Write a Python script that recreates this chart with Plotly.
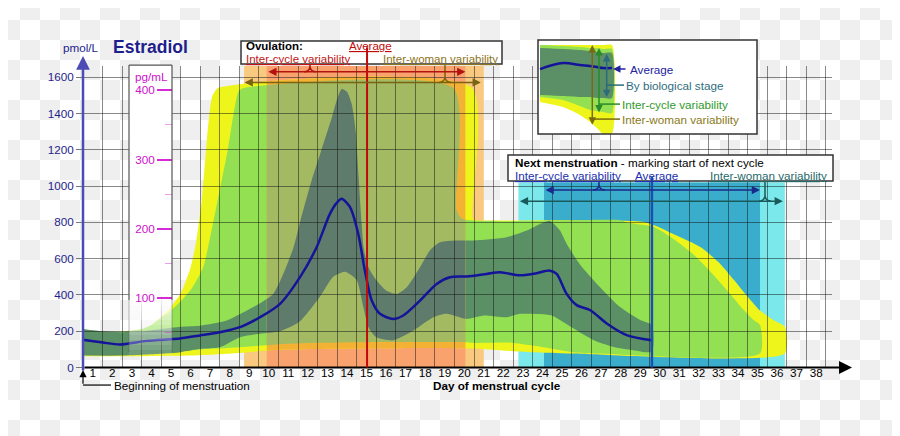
import plotly.graph_objects as go

W, H = 900, 436
OFF = 8            # page body margin
KY = 0.9864        # vertical factor between page pixels and the photographed picture
FONT = "Liberation Sans, Arial, sans-serif"

# ---------------- axis geometry (pixels of the 900x436 picture) ----------------
X0PX, DAYPX = 83.0, 19.55      # x pixel of day 0, pixels per day
Y0PX, PMOLPX = 367.5, 0.1815   # y pixel of 0 pmol/L, pixels per pmol/L
XMAX, YMAX = 38.3, 1662
PMOL_PER_PG = 3.82

# ---------------- data ----------------
DAY_LABELS = [str(d) for d in range(1, 39)]
PMOL_TICKS = [0, 200, 400, 600, 800, 1000, 1200, 1400, 1600]
PG_TICKS = [100, 200, 300, 400]
PG_MINOR = [50, 150, 250, 350]

OVULATION_INTER_WOMAN = [8.24, 20.5]
OVULATION_INTER_CYCLE = [9.4, 19.56]
OVULATION_AVERAGE = 14.53
MENSES_INTER_WOMAN = [22.27, 35.9]
MENSES_INTER_CYCLE = [23.58, 34.63]
MENSES_AVERAGE = 29.1
MENSES_BAND_TOP = 1020

# inter-woman variability (yellow)
YELLOW_TOP_X = [0, 1, 2, 3, 3.5, 4.0, 4.5, 5.0, 5.5, 5.8, 6.1, 6.4, 6.6, 6.9, 19.9, 19.95, 20.2,
                28.8, 30.2, 31.6, 32.6, 33.3, 34.0, 34.6, 35.3, 35.9]
YELLOW_TOP_Y = [205, 195, 195, 210, 235, 280, 335, 410, 550, 700, 950, 1330, 1490, 1540, 1540, 820, 812,
                800, 736, 663, 571, 482, 390, 317, 262, 225]
YELLOW_BOT_X = [0, 2, 4, 6, 8, 9, 10, 14, 19, 20, 21.7, 23, 25, 35.9]
YELLOW_BOT_Y = [62, 62, 64, 68, 80, 90, 98, 105, 107, 105, 92, 85, 78, 78]

# inter-cycle variability (light green)
GREEN_TOP_X = [0, 1, 2, 3, 3.5, 4, 4.5, 5, 5.6, 6.15, 6.4, 6.75, 7.1, 7.43, 7.7, 7.95, 8.2, 18.95, 19.1,
               19.4, 27.5, 27.8, 29.2, 30.2, 31.2, 32.2, 33.1, 33.8, 34.3, 34.63]
GREEN_TOP_Y = [210, 198, 198, 212, 235, 275, 315, 365, 443, 553, 663, 847, 1033, 1214, 1397, 1520, 1540, 1540, 870,
               820, 812, 800, 775, 709, 626, 516, 406, 317, 262, 234]
GREEN_BOT_X = [0, 2, 4, 6, 8, 9, 10, 12, 14, 19.5, 20, 21.7, 22.5, 23.4, 25.07, 26.4, 34.63]
GREEN_BOT_Y = [72, 72, 80, 100, 112, 120, 128, 136, 140, 140, 136, 138, 128, 115, 85, 78, 78]

# variability by biological stage (dark band)
DARK_TOP_X = [0, 1, 2, 3, 4, 5, 6, 7.35, 8.71, 9.73, 10.3, 10.76, 11.1, 11.7, 12.2, 12.72, 13.0, 13.23, 13.5,
              13.75, 13.95, 14.1, 14.25, 14.35, 14.6, 15.0, 15.5, 16.05, 16.56, 17.24, 17.75, 18.26, 19.1, 19.96,
              21.67, 22.7, 23.38, 23.9, 24.4, 24.74, 25.4, 26.45, 27.47, 28.5, 29.1]
DARK_TOP_Y = [213, 200, 195, 200, 213, 225, 231, 259, 333, 406, 530, 660, 800, 1033, 1200, 1375, 1480, 1535, 1520,
              1450, 1300, 1050, 800, 663, 553, 482, 425, 406, 443, 553, 646, 690, 700, 700,
              718, 755, 791, 808, 755, 682, 571, 443, 333, 262, 234]
DARK_BOT_X = [0, 2, 4, 5, 6, 7, 8.03, 9.05, 10.08, 11.1, 12.12, 12.8, 13.4, 14.0, 14.34, 14.6, 15.0, 15.87,
              16.9, 17.92, 18.6, 19.6, 20.5, 21.67, 22.35, 23.9, 24.4, 25.08, 26.1, 27.1, 28.15, 29.1]
DARK_BOT_Y = [66, 66, 76, 85, 103, 112, 167, 186, 200, 255, 390, 500, 528, 482, 333, 222, 167, 150,
              204, 277, 296, 268, 287, 277, 296, 289, 262, 216, 152, 115, 96, 87]

# average estradiol level
MEAN_X = [0, 1, 1.9, 3.26, 4.96, 6, 7, 8.03, 9.05, 10.08, 11.1, 11.95, 12.63, 13.0, 13.23, 13.66, 14.08, 14.42,
          14.77, 15.19, 15.87, 16.38, 17.24, 18.09, 18.77, 19.63, 20.65, 21.33, 22.35, 23.2, 23.89, 24.23,
          24.74, 25.25, 25.93, 26.79, 27.81, 29.1]
MEAN_Y = [153, 138, 127, 147, 160, 177, 195, 223, 277, 351, 498, 663, 847, 910, 930, 884, 736, 534,
          369, 296, 268, 287, 369, 461, 498, 502, 516, 525, 508, 520, 534, 516,
          406, 344, 317, 243, 179, 150]

# small illustration inside the key box
MINI_X = [0, 23, 40, 50, 57, 63, 72]
MINI_YELLOW_TOP = [89, 89, 89, 89, 89, 89, 89]
MINI_YELLOW_BOT = [32, 27, 19, 12, 6, 0, 0]
MINI_GREEN_TOP = [89, 88, 87, 86, 86, 85, 85]
MINI_GREEN_BOT = [37, 34, 28, 24, 23, 22, 21]
MINI_DARK_TOP = [86, 85, 84, 83, 82, 81, 81]
MINI_DARK_BOT = [39, 38, 37, 37, 36, 36, 36]
MINI_MEAN = [65, 71, 69, 68, 67, 66, 66]

# ---------------- colours ----------------
C_YELLOW, C_GREEN, C_DARK = "#eef51a", "#93e052", "#5b8f66"
C_YELLOW_OV, C_GREEN_OV, C_DARK_OV = "#f4b234", "#a3ba62", "#5f7b6b"
C_SALMON, C_LORANGE = "#f9a26e", "#f8c97e"
C_CYAN, C_BLUE = "#7be9eb", "#3aadcd"
C_LINE = "#14149a"
NAVY = "#1e1e8c"
MAGENTA = "#cc11cc"


def fx(p):
    return (p - OFF) / W


def fy(p):
    return 1 - (p / KY - OFF) / H


def band(xt, yt, xb, yb):
    return list(xt) + list(xb)[::-1], list(yt) + list(yb)[::-1]


def band_trace(xy, color, xa, ya):
    return go.Scatter(x=xy[0], y=xy[1], fill="toself", fillcolor=color, mode="lines",
                      line=dict(width=0, shape="spline", smoothing=0.6, color=color),
                      hoverinfo="skip", xaxis=xa, yaxis=ya)


YELLOW = band(YELLOW_TOP_X, YELLOW_TOP_Y, YELLOW_BOT_X, YELLOW_BOT_Y)
GREEN = band(GREEN_TOP_X, GREEN_TOP_Y, GREEN_BOT_X, GREEN_BOT_Y)
DARK = band(DARK_TOP_X, DARK_TOP_Y, DARK_BOT_X, DARK_BOT_Y)

fig = go.Figure()

# transparent-image checkerboard backdrop (20 px squares of the picture)
cols, rows = list(range(46)), list(range(23))
fig.add_trace(go.Heatmap(x=[10 + 20 * c for c in cols], y=[10 + 20 * r for r in rows],
                         z=[[(r + c) % 2 for c in cols] for r in rows], zmin=0, zmax=1,
                         colorscale=[[0, "#ffffff"], [1, "#efefef"]], showscale=False,
                         hoverinfo="skip", xaxis="x", yaxis="y"))

for xy, col in ((YELLOW, C_YELLOW), (GREEN, C_GREEN), (DARK, C_DARK)):
    fig.add_trace(band_trace(xy, col, "x2", "y2"))
for xy, col in ((YELLOW, C_YELLOW_OV), (GREEN, C_GREEN_OV), (DARK, C_DARK_OV)):
    fig.add_trace(band_trace(xy, col, "x3", "y3"))
fig.add_trace(go.Scatter(x=MEAN_X, y=MEAN_Y, mode="lines", hoverinfo="skip",
                         line=dict(color=C_LINE, width=2.5, shape="spline", smoothing=0.8),
                         xaxis="x5", yaxis="y5"))
for xy, col in ((band(MINI_X, MINI_YELLOW_TOP, MINI_X, MINI_YELLOW_BOT), C_YELLOW),
                (band(MINI_X, MINI_GREEN_TOP, MINI_X, MINI_GREEN_BOT), C_GREEN),
                (band(MINI_X, MINI_DARK_TOP, MINI_X, MINI_DARK_BOT), C_DARK)):
    fig.add_trace(band_trace(xy, col, "x6", "y6"))
fig.add_trace(go.Scatter(x=MINI_X, y=MINI_MEAN, mode="lines", hoverinfo="skip",
                         line=dict(color=C_LINE, width=2.5, shape="spline"), xaxis="x6", yaxis="y6"))
fig.add_trace(go.Scatter(x=[0.5], y=[0], mode="markers", marker=dict(opacity=0), hoverinfo="skip",
                         xaxis="x8", yaxis="y8"))

# ---------------- shapes ----------------
shapes = []
shapes.append(dict(type="rect", xref="x2", yref="y2", layer="below", line=dict(width=0), fillcolor=C_CYAN,
                   x0=MENSES_INTER_WOMAN[0], x1=MENSES_INTER_WOMAN[1], y0=0, y1=MENSES_BAND_TOP))
shapes.append(dict(type="rect", xref="x2", yref="y2", layer="below", line=dict(width=0), fillcolor=C_BLUE,
                   x0=MENSES_INTER_CYCLE[0], x1=MENSES_INTER_CYCLE[1], y0=0, y1=MENSES_BAND_TOP))
shapes.append(dict(type="rect", xref="x2", yref="y2", layer="below", line=dict(width=0), fillcolor=C_LORANGE,
                   x0=OVULATION_INTER_WOMAN[0], x1=OVULATION_INTER_WOMAN[1], y0=0, y1=YMAX))
shapes.append(dict(type="rect", xref="x2", yref="y2", layer="below", line=dict(width=0), fillcolor=C_SALMON,
                   x0=OVULATION_INTER_CYCLE[0], x1=OVULATION_INTER_CYCLE[1], y0=0, y1=YMAX))

PG_TOP_PX = 65


def pg_of_px(p):
    return (Y0PX - p) / PMOLPX / PMOL_PER_PG


shapes.append(dict(type="rect", xref="x8", yref="y8", layer="below", line=dict(width=0),
                   fillcolor="white", x0=-1, x1=2, y0=pg_of_px(295), y1=pg_of_px(PG_TOP_PX) + 10))
for i in range(13):
    top, bot = 295 + 5 * i, 300 + 5 * i
    shapes.append(dict(type="rect", xref="x8", yref="y8", layer="below", line=dict(width=0),
                       fillcolor="rgba(255,255,255,%.2f)" % (0.9 - 0.07 * i),
                       x0=-1, x1=2, y0=pg_of_px(bot), y1=pg_of_px(top)))
shapes.append(dict(type="rect", xref="x6", yref="y6", layer="below", line=dict(width=0),
                   fillcolor="white", x0=-50, x1=300, y0=-50, y1=200))

for xp in (129, 172):
    shapes.append(dict(type="line", xref="paper", yref="paper", layer="above",
                       x0=fx(xp), x1=fx(xp), y0=fy(PG_TOP_PX), y1=fy(300), line=dict(color="#555", width=1.2)))
    shapes.append(dict(type="line", xref="paper", yref="paper", layer="above",
                       x0=fx(xp), x1=fx(xp), y0=fy(300), y1=fy(352),
                       line=dict(color="rgba(85,85,85,0.35)", width=1.2)))
shapes.append(dict(type="line", xref="paper", yref="paper", layer="above",
                   x0=fx(129), x1=fx(172), y0=fy(PG_TOP_PX), y1=fy(PG_TOP_PX), line=dict(color="#555", width=1.2)))

for (x0, y0, x1, y1, fill) in ((241, 41, 502, 64, "white"), (508, 155, 833, 181, "white"),
                               (538, 40, 757, 134, "rgba(0,0,0,0)")):
    shapes.append(dict(type="rect", xref="paper", yref="paper", layer="above",
                       x0=fx(x0), x1=fx(x1), y0=fy(y0), y1=fy(y1), fillcolor=fill,
                       line=dict(color="#333", width=1.5)))

shapes.append(dict(type="line", xref="paper", yref="paper", layer="above",
                   x0=fx(83), x1=fx(111), y0=fy(385), y1=fy(385), line=dict(color="black", width=1.2)))


def brace(x, y, top, color):
    path = ("M {a},{b} Q {c},{b} {d},{e} Q {f},{b} {g},{b} M {d},{e} L {d},{h}"
            .format(a=fx(x - 6), b=fy(y), c=fx(x - 1), d=fx(x), e=fy(y - 5), f=fx(x + 1), g=fx(x + 6), h=fy(top)))
    return dict(type="path", xref="paper", yref="paper", layer="above", path=path,
                line=dict(color=color, width=1.5))


shapes += [brace(310, 71.7, 64, "#b3120f"), brace(445, 82.3, 64, "#7a6312"),
           brace(599, 190, 181, "#1a2a8a"), brace(765, 201, 181, "#1a5a5a")]

for (xa, xb, yv, col) in ((593, 620, 119, "#7a6a10"), (599, 620, 104, "#2a8a2a"), (607, 624, 85, "#2b6b7b")):
    shapes.append(dict(type="line", xref="paper", yref="paper", layer="above",
                       x0=fx(xa), x1=fx(xb), y0=fy(yv), y1=fy(yv), line=dict(color=col, width=1.5)))

# ---------------- annotations ----------------
ann = []


def txt(x, y, s, color="black", size=11.7, anchor="left", underline=False):
    font = dict(family=FONT, size=size, color=color)
    if underline:
        font["lineposition"] = "under"
    ann.append(dict(x=fx(x), y=fy(y), xref="paper", yref="paper", text=s, showarrow=False,
                    xanchor=anchor, yanchor="middle", font=font, borderpad=0))


def parrow(hx, hy, tx, ty, color, width, head=2, size=1.0, side="end"):
    ann.append(dict(x=fx(hx), y=fy(hy), xref="paper", yref="paper", ax=tx - hx, ay=(ty - hy) / KY,
                    axref="pixel", ayref="pixel", text="", showarrow=True, arrowhead=head, arrowsize=size,
                    arrowwidth=width, arrowcolor=color, arrowside=side, standoff=0, startstandoff=0))


def darrow(x0, x1, y, color):
    ann.append(dict(x=x1, y=y, xref="x2", yref="y2", ax=x0, ay=y, axref="x2", ayref="y2", text="",
                    showarrow=True, arrowhead=2, arrowsize=1.1, arrowwidth=1.5, arrowcolor=color,
                    arrowside="end+start", standoff=0, startstandoff=0))


def vline(xd, top_px, color, width):
    ann.append(dict(x=xd, y=0, xref="x2", yref="y2", ax=0, ay=(top_px - Y0PX) / KY, axref="pixel",
                    ayref="pixel", text="", showarrow=True, arrowhead=0, arrowwidth=width, arrowcolor=color,
                    standoff=0, startstandoff=0))


parrow(83, 56, 83, Y0PX, "#4b4bb5", 2.5, head=2, size=1.1)
parrow(852, Y0PX, 83, Y0PX, "black", 2, head=2, size=1.3)
parrow(83, 370, 83, 385, "black", 1.2, head=2, size=1.2)

vline(OVULATION_AVERAGE, 50, "#c00a0a", 2)
vline(MENSES_AVERAGE, 178, "#1a50b0", 2.5)

darrow(OVULATION_INTER_CYCLE[0], OVULATION_INTER_CYCLE[1], 1630, "#b3120f")
darrow(OVULATION_INTER_WOMAN[0] - 0.05, OVULATION_INTER_WOMAN[1] - 0.15, 1571, "#7a6312")
darrow(MENSES_INTER_CYCLE[0], MENSES_INTER_CYCLE[1], 978, "#1a2a8a")
darrow(MENSES_INTER_WOMAN[0], MENSES_INTER_WOMAN[1] - 0.1, 917, "#1a5a5a")

parrow(592.3, 45, 592.3, 125, "#7a6a10", 1.5, side="end+start")
parrow(599, 48, 599, 113, "#2a8a2a", 1.5, side="end+start")
parrow(606.7, 54, 606.7, 98, "#2b6b7b", 1.5, side="end+start")
parrow(613, 69, 627, 69, "#2323a0", 1.5, size=1.0)

txt(112, 47, "<b>Estradiol</b>", NAVY, size=17.5)
txt(81, 47, "pmol/L", NAVY, anchor="center")
txt(151, 76.5, "pg/mL", MAGENTA, anchor="center")
txt(113, 385, "Beginning of menstruation")
txt(432, 385, "<b>Day of menstrual cycle</b>")

txt(245, 45.8, "<b>Ovulation:</b>", size=11.5)
txt(370, 45.8, "Average", "#c00a0a", size=11.5, anchor="center", underline=True)
txt(245, 59.2, "Inter-cycle variability", "#c01414", size=11.5, underline=True)
txt(382, 59.2, "Inter-woman variability", "#8b7320", size=11.5, underline=True)

txt(514, 162, "<b>Next menstruation</b> - marking start of next cycle")
txt(514, 175, "Inter-cycle variability", "#2030b0", underline=True)
txt(634, 175, "Average", "#2030b0", underline=True)
txt(709, 175, "Inter-woman variability", "#1f6a6a", underline=True)

txt(629, 69, "Average", "#2323a0")
txt(625, 85, "By biological stage", "#2e6e80")
txt(621, 104, "Inter-cycle variability", "#2f9a2a")
txt(621, 119, "Inter-woman variability", "#8a7a20")

# ---------------- layout ----------------
main_xdom = [fx(X0PX), fx(X0PX + XMAX * DAYPX)]
main_ydom = [fy(Y0PX), fy(Y0PX - YMAX * PMOLPX)]
ov_xdom = [fx(X0PX + OVULATION_INTER_CYCLE[0] * DAYPX), fx(X0PX + OVULATION_INTER_CYCLE[1] * DAYPX)]
hidden = dict(visible=False, fixedrange=True)

fig.update_layout(
    width=W, height=H, margin=dict(l=0, r=0, t=0, b=0),
    paper_bgcolor="white", plot_bgcolor="rgba(0,0,0,0)", showlegend=False,
    font=dict(family=FONT, size=11.7, color="black"),
    xaxis=dict(domain=[0, 1], range=[OFF, W + OFF], anchor="y", **hidden),
    yaxis=dict(domain=[0, 1], range=[(H + OFF) * KY, OFF * KY], anchor="x", **hidden),
    xaxis2=dict(domain=main_xdom, range=[0, XMAX], anchor="y2", showgrid=False, zeroline=False,
                showline=False, ticks="", tickmode="array",
                tickvals=[i + 0.5 for i in range(len(DAY_LABELS))], ticktext=DAY_LABELS,
                tickfont=dict(family=FONT, size=11.7, color="black"), ticklabelstandoff=-3),
    yaxis2=dict(domain=main_ydom, range=[0, YMAX], anchor="x2", showgrid=False, zeroline=False,
                showline=False, ticks="outside", ticklen=6, tickcolor="#777", tickmode="array",
                tickvals=PMOL_TICKS, tickfont=dict(family=FONT, size=11.7, color=NAVY)),
    xaxis3=dict(domain=ov_xdom, range=OVULATION_INTER_CYCLE, anchor="y3", **hidden),
    yaxis3=dict(domain=main_ydom, range=[0, YMAX], anchor="x3", **hidden),
    xaxis5=dict(domain=main_xdom, range=[0, XMAX], anchor="y5", showgrid=True, gridcolor="rgba(20,20,20,0.5)",
                gridwidth=1, tick0=0, dtick=1, showticklabels=False, ticks="", zeroline=False, showline=False),
    yaxis5=dict(domain=main_ydom, range=[0, YMAX], anchor="x5", showgrid=True, gridcolor="rgba(20,20,20,0.5)",
                gridwidth=1, tick0=0, dtick=200, showticklabels=False, ticks="", zeroline=False, showline=False),
    xaxis6=dict(domain=[fx(538), fx(757)], range=[-2, 217], anchor="y6", **hidden),
    yaxis6=dict(domain=[fy(134), fy(40)], range=[0, 94], anchor="x6", **hidden),
    xaxis8=dict(domain=[fx(129), fx(172)], range=[0, 1], anchor="y8", **hidden),
    yaxis8=dict(domain=[fy(Y0PX), fy(PG_TOP_PX)], range=[0, pg_of_px(PG_TOP_PX)], anchor="free",
                position=fx(172), side="left", showgrid=False, zeroline=False, showline=False,
                ticks="outside", ticklen=15, tickwidth=2, tickcolor="#d62ad6", tickmode="array",
                tickvals=PG_TICKS, tickfont=dict(family=FONT, size=11.7, color=MAGENTA),
                minor=dict(tickmode="array", tickvals=PG_MINOR, ticks="outside", ticklen=7,
                           tickcolor="rgba(214,42,214,0.45)", tickwidth=1, showgrid=False),
                fixedrange=True),
    shapes=shapes, annotations=ann,
)

fig.write_html("out.html")
